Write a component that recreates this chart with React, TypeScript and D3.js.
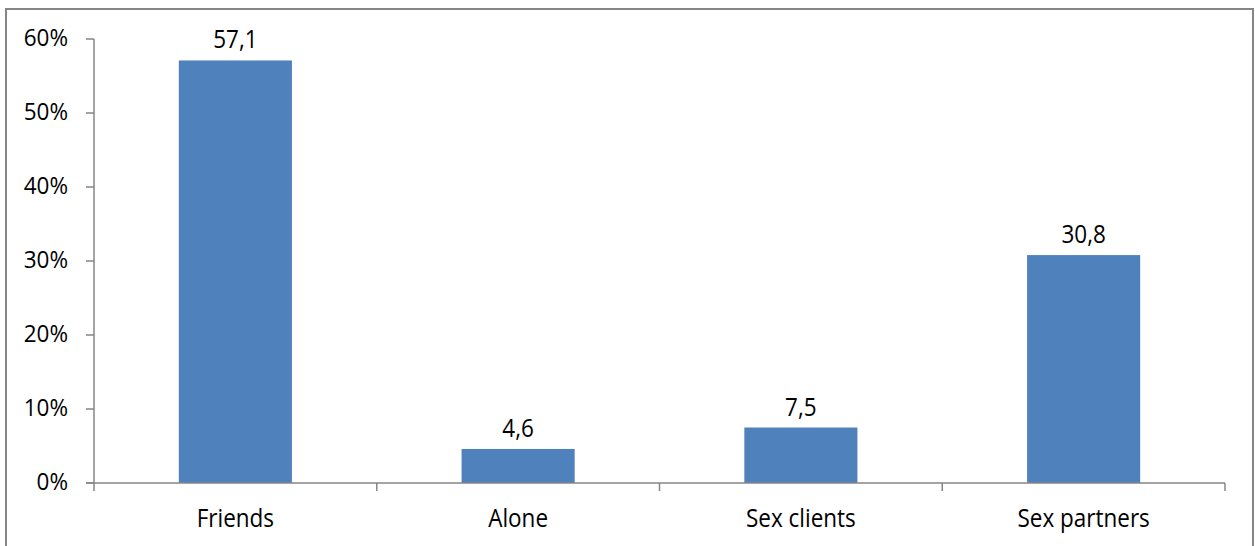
import React from "react";
import * as d3 from "d3";

const categories = ["Friends", "Alone", "Sex clients", "Sex partners"];
const values = [57.1, 4.6, 7.5, 30.8];
const valueLabels = ["57,1", "4,6", "7,5", "30,8"];
const yTicks = [0, 10, 20, 30, 40, 50, 60];

export default function App() {
  const W = 1255, H = 546;
  const left = 94, right = 1225, top = 39, bottom = 483;
  const x = d3.scaleBand<string>().domain(categories).range([left, right]).padding(0);
  const y = d3.scaleLinear().domain([0, 60]).range([bottom, top]);
  const bw = x.bandwidth() * 0.4;
  const font = "'Open Sans', sans-serif";
  const fs = 22.5;
  const axisColor = "#868686";
  const T = ({ tx, ty, sy, anchor, children }: any) => (
    <text transform={`translate(${tx},${ty}) scale(1,${sy})`} textAnchor={anchor} fontFamily={font} fontSize={fs} fill="#000">{children}</text>
  );
  return (
    <svg width={W} height={H} style={{ position: "absolute", left: 0, top: 0 }}>
      <rect x={0} y={0} width={W} height={H} fill="#fff" />
      <path d={`M6,${H + 2} V9 H1253 V${H + 2}`} fill="none" stroke={axisColor} strokeWidth={2} />
      {categories.map((c, i) => (
        <g key={c}>
          <rect x={x(c)! + x.bandwidth() / 2 - bw / 2} y={y(values[i])} width={bw} height={bottom - y(values[i])} fill="#4f81bd" />
          <T tx={x(c)! + x.bandwidth() / 2} ty={y(values[i]) - 12} sy={1.15} anchor="middle">{valueLabels[i]}</T>
          <T tx={x(c)! + x.bandwidth() / 2} ty={527} sy={1.15} anchor="middle">{c}</T>
        </g>
      ))}
      <line x1={left} x2={left} y1={top} y2={bottom} stroke={axisColor} strokeWidth={1.5} />
      <line x1={left - 8} x2={right} y1={bottom} y2={bottom} stroke={axisColor} strokeWidth={1.5} />
      {yTicks.map(t => (
        <g key={t}>
          <line x1={left - 8} x2={left} y1={y(t)} y2={y(t)} stroke={axisColor} strokeWidth={1.5} />
          <T tx={68} ty={y(t) + 7} sy={1.03} anchor="end">{t}%</T>
        </g>
      ))}
      {[...categories.map(c => x(c)!), right].map((px, i) => (
        <line key={i} x1={px} x2={px} y1={bottom} y2={bottom + 8} stroke={axisColor} strokeWidth={1.5} />
      ))}
    </svg>
  );
}
